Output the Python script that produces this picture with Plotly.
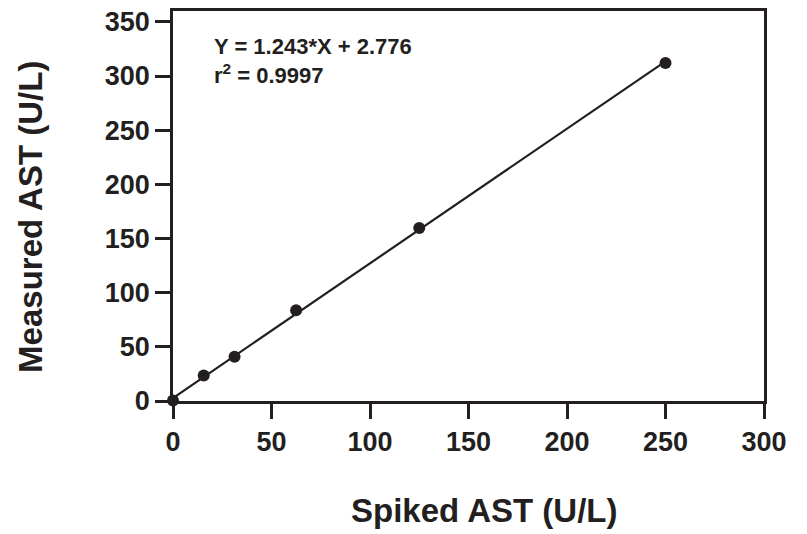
import plotly.graph_objects as go

spiked = [0, 15.6, 31.25, 62.5, 125, 250]
measured = [0.5, 23.5, 40.8, 83.8, 159.7, 312]
slope = 1.243
intercept = 2.776
fit_x = [0, 250]
fit_y = [slope * v + intercept for v in fit_x]

x_ticks = [0, 50, 100, 150, 200, 250, 300]
y_ticks = [0, 50, 100, 150, 200, 250, 300, 350]

ink = "#231f20"
font_family = "Liberation Sans, Arial, Helvetica, sans-serif"

fig = go.Figure()
fig.add_trace(go.Scatter(x=fit_x, y=fit_y, mode="lines",
                         line=dict(color=ink, width=2.2), showlegend=False,
                         cliponaxis=False))
fig.add_trace(go.Scatter(x=spiked, y=measured, mode="markers",
                         marker=dict(color=ink, size=12), showlegend=False,
                         cliponaxis=False))

axis_common = dict(showgrid=False, zeroline=False, showline=True, linecolor=ink,
                   linewidth=2.5, ticks="outside", ticklen=15, tickwidth=2.5,
                   tickcolor=ink, mirror=True,
                   tickfont=dict(family=font_family, size=27, color=ink, weight="bold"))

fig.update_xaxes(range=[0, 300], tickvals=x_ticks, ticktext=[str(v) for v in x_ticks],
                 **axis_common)
fig.update_yaxes(range=[0, 360], tickvals=y_ticks, ticktext=[str(v) for v in y_ticks],
                 **axis_common)

fig.add_annotation(text="<b>Y = 1.243*X + 2.776</b>", xref="paper", yref="paper",
                   x=(212 - 173) / 591, y=(401 - 43) / 394, xanchor="left", yanchor="middle",
                   showarrow=False, font=dict(family=font_family, size=22, color=ink))
fig.add_annotation(text="<b>r<sup>2</sup> = 0.9997</b>", xref="paper", yref="paper",
                   x=(212 - 173) / 591, y=(401 - 71) / 394, xanchor="left", yanchor="middle",
                   showarrow=False, font=dict(family=font_family, size=22, color=ink))

fig.add_annotation(text="<b>Spiked AST (U/L)</b>", xref="paper", yref="paper",
                   x=(484 - 173) / 591, y=(401 - 512) / 394, xanchor="center", yanchor="middle",
                   showarrow=False, font=dict(family=font_family, size=33, color=ink))
fig.add_annotation(text="<b>Measured AST (U/L)</b>", xref="paper", yref="paper",
                   x=(31 - 173) / 591, y=(401 - 215) / 394, xanchor="center", yanchor="middle",
                   textangle=-90,
                   showarrow=False, font=dict(family=font_family, size=33, color=ink))

fig.update_layout(width=807, height=534, margin=dict(l=173, r=43, t=7, b=133),
                  plot_bgcolor="white", paper_bgcolor="white",
                  font=dict(family=font_family, color=ink))

fig.write_html("out.html", config={"displayModeBar": False},
               post_script="document.body.style.margin='0';document.body.style.padding='0';")
